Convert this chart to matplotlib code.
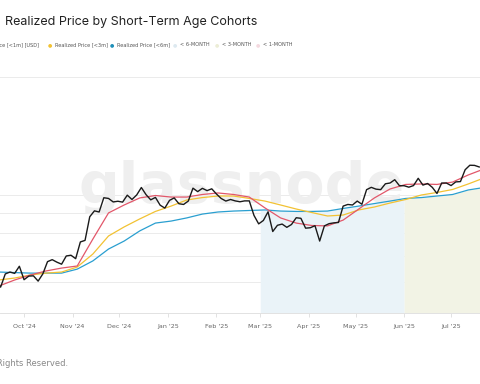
import matplotlib
matplotlib.use("Agg")
import matplotlib.pyplot as plt
import matplotlib.dates as mdates
import numpy as np
import pandas as pd

# BTC price, every 3 days from 2024-09-13 (thousand USD)
price_k = [60.5, 58.2, 62.9, 63.6, 63.1, 65.8, 60.8, 62.1, 62.2, 60.3,
           62.9, 67.6, 68.4, 67.4, 66.6, 69.9, 70.2, 68.8, 75.9, 76.6,
           88.0, 91.1, 90.5, 98.4, 98.0, 96.0, 96.4, 95.9, 99.9, 97.4,
           100.0, 104.5, 100.2, 97.2, 98.6, 94.2, 92.6, 96.9, 98.3, 95.0,
           94.6, 96.5, 104.1, 102.0, 104.0, 102.6, 103.7, 100.6, 98.0, 96.5,
           97.4, 96.6, 96.1, 96.6, 96.6, 88.7, 84.4, 86.1, 90.6, 80.7,
           83.7, 84.3, 82.7, 84.1, 87.5, 87.2, 82.3, 82.5, 83.5, 76.3,
           83.4, 84.5, 84.9, 85.1, 93.7, 94.6, 94.3, 96.5, 94.7, 103.2,
           104.6, 103.5, 103.2, 106.8, 107.3, 109.4, 105.6, 105.6, 104.7, 105.7,
           110.3, 106.0, 107.0, 104.6, 100.9, 107.3, 107.3, 105.7, 108.0, 108.2,
           116.0, 119.1, 119.0, 117.9]

# realized prices, every 10 days from 2024-09-15 (thousand USD)
rp_1m_k = [58.6, 60.7, 62.5, 64.0, 65.1, 65.9, 77.2, 90.0, 94.3, 98.3,
           99.7, 98.8, 98.8, 100.3, 101.2, 100.3, 98.8, 92.7, 87.4, 84.8,
           83.6, 83.4, 86.3, 92.1, 98.3, 103.6, 106.4, 106.7, 106.4, 107.9,
           112.5, 116.5]
rp_3m_k = [60.7, 61.4, 62.5, 63.2, 63.6, 65.5, 70.7, 78.6, 82.9, 86.9,
           90.8, 93.7, 97.1, 98.5, 99.4, 99.4, 98.0, 96.5, 94.3, 92.1,
           90.2, 88.4, 88.9, 91.6, 93.2, 95.4, 97.4, 100.0, 101.5, 103.3,
           106.7, 110.5]
rp_6m_k = [63.6, 63.4, 63.2, 63.2, 63.2, 64.7, 67.9, 72.8, 76.3, 81.0,
           84.8, 85.8, 87.4, 89.4, 90.5, 91.0, 91.3, 91.6, 91.0, 90.8,
           90.8, 91.0, 92.4, 93.7, 95.1, 96.5, 98.0, 98.5, 99.4, 100.3,
           103.0, 104.5]

price_dates = pd.date_range("2024-09-13", periods=len(price_k), freq="3D")
rp_dates = pd.date_range("2024-09-15", periods=len(rp_1m_k), freq="10D")

band_6m = ("2025-03-01", "2025-06-01")
band_3m = ("2025-06-01", "2025-07-25")

grid_k = [50, 60, 70, 80, 90, 100, 200]

legend_items = [("Realized Price [<3m]", "#f2c232"),
                ("Realized Price [<6m]", "#1f8fb8"),
                ("< 6-MONTH", "#dde9f0"),
                ("< 3-MONTH", "#ecedd6"),
                ("< 1-MONTH", "#f4d9df")]
legend_x = [50, 112, 175, 217, 258]

fig = plt.figure(figsize=(4.8, 3.84), dpi=100)
ax = fig.add_axes([0, 1 - 313 / 384, 1, 236 / 384])

ax.set_yscale("log")
ax.set_ylim(50, 200)
ax.set_xlim(pd.Timestamp("2024-09-15 15:00"), pd.Timestamp("2025-07-19 12:00"))

ax.set_yticks(grid_k)
ax.yaxis.set_minor_locator(matplotlib.ticker.NullLocator())
ax.tick_params(axis="y", left=False, labelleft=False)
ax.grid(axis="y", color="#ebebeb", lw=0.7)
ax.set_axisbelow(True)

for s in ["top", "left", "right"]:
    ax.spines[s].set_visible(False)
ax.spines["bottom"].set_color("#e2e2e2")
ax.spines["bottom"].set_linewidth(0.7)

ax.xaxis.set_major_locator(mdates.MonthLocator())
ax.xaxis.set_major_formatter(mdates.DateFormatter("%b '%y"))
ax.tick_params(axis="x", length=3, width=0.6, color="#dddddd",
               labelsize=4.6, labelcolor="#666666", pad=5)

# age bands filled up to the 6m realized price
rp_num = mdates.date2num(rp_dates)
for (a, b), col in [(band_6m, "#eaf3f8"), (band_3m, "#f2f3e5")]:
    days = pd.date_range(a, b, freq="D")
    top = np.interp(mdates.date2num(days), rp_num, rp_6m_k)
    ax.fill_between(days, 50, top, color=col, lw=0, zorder=1)

# watermark, above the bands but under the lines
ax.text(242 / 480, 1 - 188 / 384, "glassnode", transform=fig.transFigure,
        ha="center", va="center", fontsize=41, color="#efefef",
        fontweight="bold", family="DejaVu Sans", zorder=2)

ax.plot(rp_dates, rp_6m_k, color="#2a9fd0", lw=0.9, zorder=3)
ax.plot(rp_dates, rp_3m_k, color="#f2c233", lw=0.9, zorder=3)
ax.plot(rp_dates, rp_1m_k, color="#e2576a", lw=0.9, zorder=4)
ax.plot(price_dates, price_k, color="#1a1a1a", lw=1.0, zorder=5)

fig.text(5 / 480, 1 - 22 / 384, "Realized Price by Short-Term Age Cohorts",
         ha="left", va="center", fontsize=9.0, family="Inter", color="#222222")

ly = 1 - 45 / 384
fig.text(39 / 480, ly, "Realized Price [<1m] [USD]", ha="right", va="center",
         fontsize=3.6, color="#555555")
for (label, col), x in zip(legend_items, legend_x):
    fig.text(x / 480, ly, "\u25cf", ha="center", va="center", fontsize=3.6, color=col)
    fig.text((x + 5) / 480, ly, label, ha="left", va="center", fontsize=3.6,
             color="#555555")

fig.text(68 / 480, 1 - 364 / 384, "\u00a9 2025 Glassnode. All Rights Reserved.",
         ha="right", va="center", fontsize=6, color="#888888")

fig.savefig("out.png", dpi=100)
